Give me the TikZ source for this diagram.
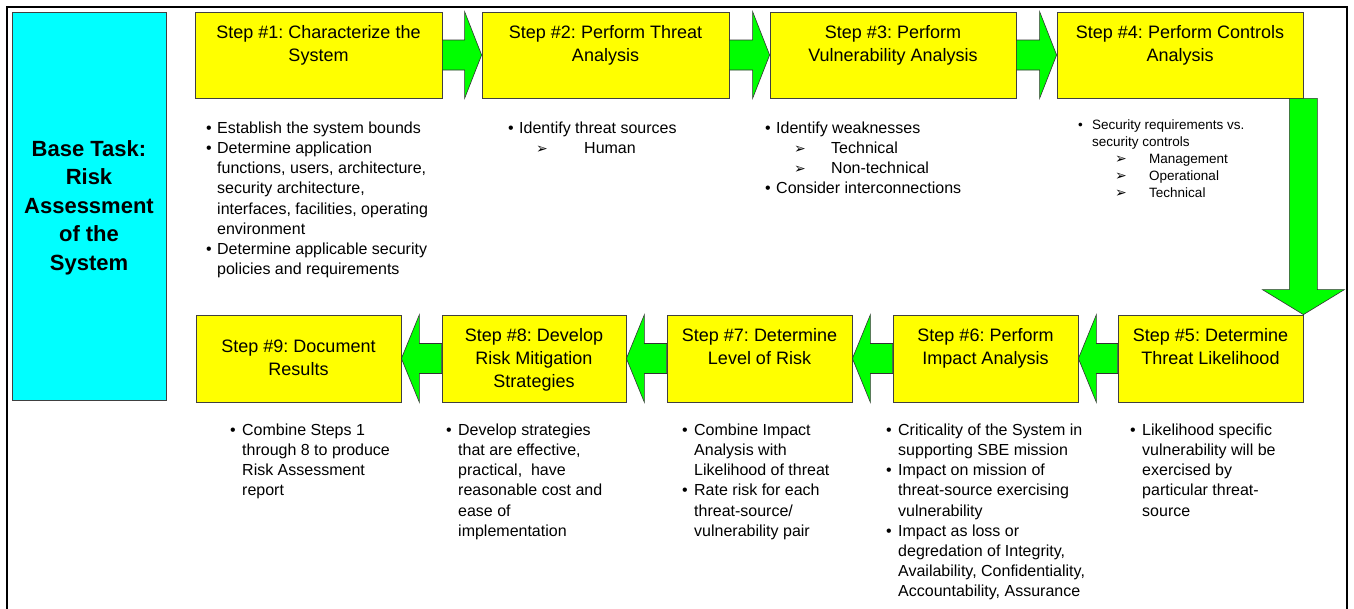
\documentclass[tikz,border=0pt]{standalone}
\usepackage{fontspec}
\setmainfont{Liberation Sans}
\newfontfamily\dingfont{DejaVu Sans}
\usetikzlibrary{calc}
\definecolor{ylw}{HTML}{FFFF00}
\definecolor{cyn}{HTML}{00FFFF}
\definecolor{grn}{HTML}{00FF00}
\definecolor{edgec}{HTML}{404040}
\frenchspacing
\newcommand{\bl}[1]{\makebox[#1][l]{\textbullet}}
\newcommand{\sarr}[2]{\hspace*{#1}\makebox[#2][l]{{\dingfont\fontsize{14}{14}\selectfont ➢}}}
\newcommand{\rarrow}[2]{%
  \path[blockarrow] ($(#1.east)+(0,-15)$) -- ($(#2.west)+(-17,-15)$) -- ($(#2.north west)+(-17,0)$) -- (#2.west) -- ($(#2.south west)+(-17,0)$) -- ($(#2.west)+(-17,15)$) -- ($(#1.east)+(0,15)$) -- cycle;}
\newcommand{\larrow}[2]{%
  \path[blockarrow] ($(#1.west)+(0,-15)$) -- ($(#2.east)+(18,-15)$) -- ($(#2.north east)+(18,0)$) -- (#2.east) -- ($(#2.south east)+(18,0)$) -- ($(#2.east)+(18,15)$) -- ($(#1.west)+(0,15)$) -- cycle;}
\begin{document}
\begin{tikzpicture}[x=1pt,y=-1pt,
  stepbox/.style={draw=edgec,fill=ylw,line width=0.8pt,inner sep=0pt,minimum height=86pt},
  title/.style={inner sep=0pt,align=center,anchor=north,font=\fontsize{18}{23}\selectfont},
  btext/.style={inner sep=0pt,align=left,anchor=north west,font=\fontsize{16}{20.2}\selectfont},
  stext/.style={inner sep=0pt,align=left,anchor=north west,font=\fontsize{13.5}{17}\selectfont},
  blockarrow/.style={fill=grn,draw=black!80,line width=0.6pt,line join=miter}]
\useasboundingbox (0,0) rectangle (1354,608);
\clip (0,0) rectangle (1354,608);
\fill[white] (0,0) rectangle (1354,608);
\draw[line width=2.5pt] (7,7) rectangle (1347,660);
% base task
\node[draw=edgec,fill=cyn,line width=0.8pt,minimum width=154pt,minimum height=388pt,inner sep=0pt] (base) at (89,206) {};
\node[inner sep=0pt,align=center,anchor=north,font=\fontsize{22}{28.5}\selectfont\bfseries] (baset) at (89,140) {\rule{0pt}{16pt}Base Task:\\Risk\\Assessment\\of the\\System};
% top row boxes
\node[stepbox,minimum width=247pt] (s1) at (318.5,55) {};
\node[stepbox,minimum width=247pt] (s2) at (605.5,55) {};
\node[stepbox,minimum width=246pt] (s3) at (893,55) {};
\node[stepbox,minimum width=246pt] (s4) at (1180,55) {};
% bottom row boxes
\node[stepbox,minimum width=185pt,minimum height=87pt] (s5) at (1210.5,358.5) {};
\node[stepbox,minimum width=185pt,minimum height=87pt] (s6) at (985.5,358.5) {};
\node[stepbox,minimum width=185pt,minimum height=87pt] (s7) at (759.5,358.5) {};
\node[stepbox,minimum width=184pt,minimum height=87pt] (s8) at (534,358.5) {};
\node[stepbox,minimum width=205pt,minimum height=87pt] (s9) at (298.5,358.5) {};
% arrows
\rarrow{s1}{s2}
\rarrow{s2}{s3}
\rarrow{s3}{s4}
\path[blockarrow] ($(s4.south east)+(-14,0)$) -- ($(s5.north east)+(-14,-25)$) -- ($(s5.north east)+(-41,-25)$) -- (s5.north east) -- ($(s5.north east)+(41,-25)$) -- ($(s5.north east)+(14,-25)$) -- ($(s4.south east)+(14,0)$) -- cycle;
\larrow{s5}{s6}
\larrow{s6}{s7}
\larrow{s7}{s8}
\larrow{s8}{s9}
% titles
\node[title] (t1) at ($(s1.north)+(0,14)$) {\rule{0pt}{13pt}Step \#1: Characterize the\\System};
\node[title] (t2) at ($(s2.north)+(0,14)$) {\rule{0pt}{13pt}Step \#2: Perform Threat\\Analysis};
\node[title] (t3) at ($(s3.north)+(0,14)$) {\rule{0pt}{13pt}Step \#3: Perform\\Vulnerability Analysis};
\node[title] (t4) at ($(s4.north)+(0,14)$) {\rule{0pt}{13pt}Step \#4: Perform Controls\\Analysis};
\node[title] (t5) at ($(s5.north)+(0,14)$) {\rule{0pt}{13pt}Step \#5: Determine\\Threat Likelihood};
\node[title] (t6) at ($(s6.north)+(0,14)$) {\rule{0pt}{13pt}Step \#6: Perform\\Impact Analysis};
\node[title] (t7) at ($(s7.north)+(0,14)$) {\rule{0pt}{13pt}Step \#7: Determine\\Level of Risk};
\node[title] (t8) at ($(s8.north)+(0,14)$) {\rule{0pt}{13pt}Step \#8: Develop\\Risk Mitigation\\Strategies};
\node[title] (t9) at ($(s9.north)+(0,25)$) {\rule{0pt}{13pt}Step \#9: Document\\Results};
% top bullet texts
\node[btext] (b1) at (206,121) {\rule{0pt}{12pt}\bl{11pt}Establish the system bounds\\
\bl{11pt}Determine application\\
\hspace*{11pt}functions, users, architecture,\\
\hspace*{11pt}security architecture,\\
\hspace*{11pt}interfaces, facilities, operating\\
\hspace*{11pt}environment\\
\bl{11pt}Determine applicable security\\
\hspace*{11pt}policies and requirements};
\node[btext] (b2) at (508,121) {\rule{0pt}{12pt}\bl{11pt}Identify threat sources\\
\sarr{28pt}{48pt}Human};
\node[btext] (b3) at (765,121) {\rule{0pt}{12pt}\bl{11pt}Identify weaknesses\\
\sarr{29pt}{37pt}Technical\\
\sarr{29pt}{37pt}Non-technical\\
\bl{11pt}Consider interconnections};
\node[stext] (b4) at (1078,119) {\rule{0pt}{10pt}\bl{14pt}Security requirements vs.\\
\hspace*{14pt}security controls\\
\sarr{37pt}{34pt}Management\\
\sarr{37pt}{34pt}Operational\\
\sarr{37pt}{34pt}Technical};
% bottom bullet texts
\node[btext] (b9) at (230,423) {\rule{0pt}{12pt}\bl{12pt}Combine Steps 1\\
\hspace*{12pt}through 8 to produce\\
\hspace*{12pt}Risk Assessment\\
\hspace*{12pt}report};
\node[btext] (b8) at (446,423) {\rule{0pt}{12pt}\bl{12pt}Develop strategies\\
\hspace*{12pt}that are effective,\\
\hspace*{12pt}practical,\ \ have\\
\hspace*{12pt}reasonable cost and\\
\hspace*{12pt}ease of\\
\hspace*{12pt}implementation};
\node[btext] (b7) at (682,423) {\rule{0pt}{12pt}\bl{12pt}Combine Impact\\
\hspace*{12pt}Analysis with\\
\hspace*{12pt}Likelihood of threat\\
\bl{12pt}Rate risk for each\\
\hspace*{12pt}threat-source/\\
\hspace*{12pt}vulnerability pair};
\node[btext] (b6) at (886,423) {\rule{0pt}{12pt}\bl{12pt}Criticality of the System in\\
\hspace*{12pt}supporting SBE mission\\
\bl{12pt}Impact on mission of\\
\hspace*{12pt}threat-source exercising\\
\hspace*{12pt}vulnerability\\
\bl{12pt}Impact as loss or\\
\hspace*{12pt}degredation of Integrity,\\
\hspace*{12pt}Availability, Confidentiality,\\
\hspace*{12pt}Accountability, Assurance};
\node[btext] (b5) at (1130,423) {\rule{0pt}{12pt}\bl{12pt}Likelihood specific\\
\hspace*{12pt}vulnerability will be\\
\hspace*{12pt}exercised by\\
\hspace*{12pt}particular threat-\\
\hspace*{12pt}source};
\end{tikzpicture}
\end{document}
